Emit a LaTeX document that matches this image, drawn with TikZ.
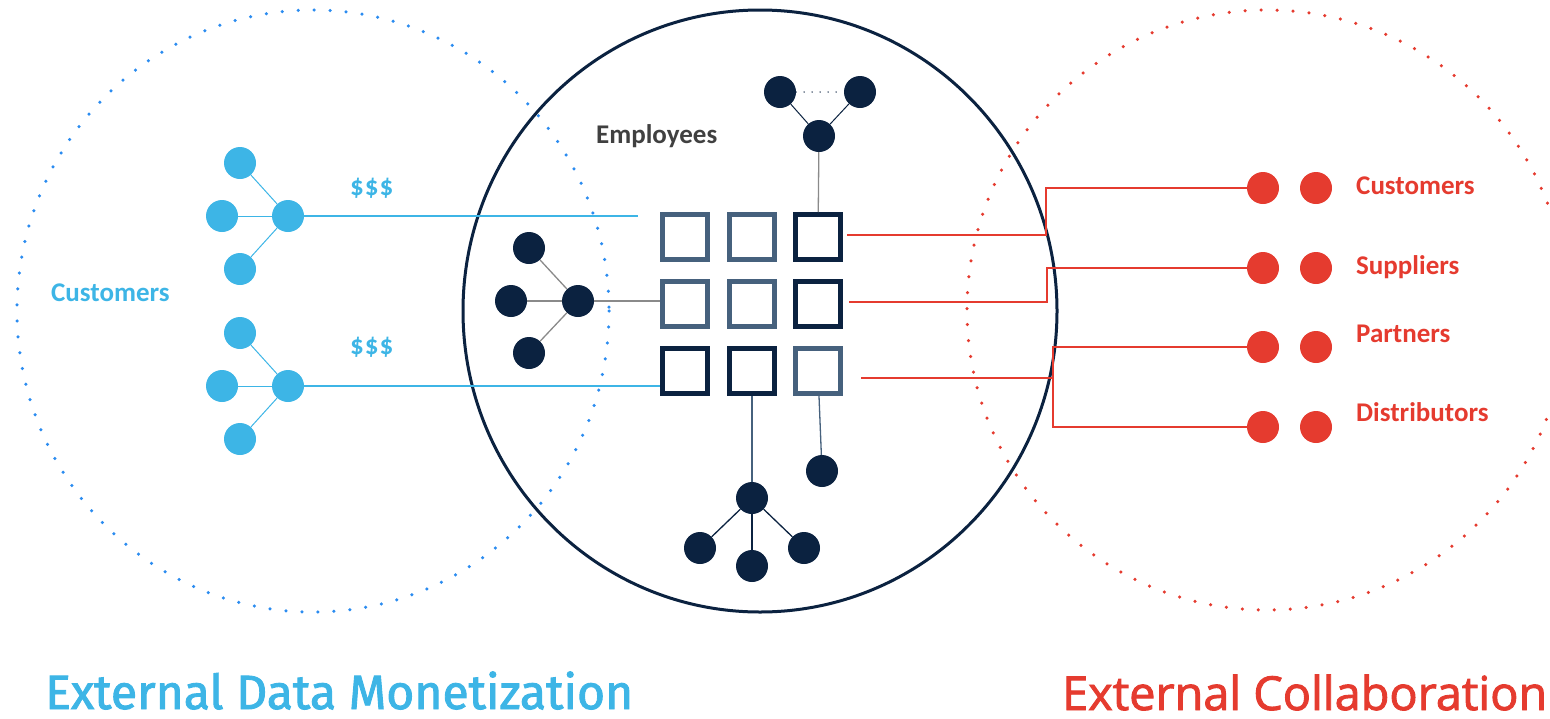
\documentclass[tikz,border=0pt]{standalone}
\usepackage{fontspec}
\setmainfont{Carlito}
\newfontfamily\tfa{Fira Sans}
\newfontfamily\tfb{Open Sans}
\newcommand{\heavytext}[1]{\special{pdf:literal 2 Tr 0.9 w}#1\special{pdf:literal 0 Tr}}
\definecolor{cblue}{HTML}{3DB5E6}
\definecolor{dblue}{HTML}{2B8CF0}
\definecolor{navy}{HTML}{0B2240}
\definecolor{slate}{HTML}{46617D}
\definecolor{cred}{HTML}{E53B2F}
\definecolor{txtgray}{HTML}{404040}
\definecolor{lgray}{HTML}{8A8A8A}
\begin{document}
\begin{tikzpicture}[x=1pt,y=-1pt,
  bnode/.style={circle,fill=cblue,minimum size=32pt,inner sep=0pt},
  dnode/.style={circle,fill=navy,minimum size=32pt,inner sep=0pt},
  rnode/.style={circle,fill=cred,minimum size=32pt,inner sep=0pt},
  sqa/.style={draw=slate,line width=5pt,minimum size=45pt,inner sep=0pt,fill=white},
  sqb/.style={draw=navy,line width=5pt,minimum size=45pt,inner sep=0pt,fill=white},
  blink/.style={draw=cblue,line width=1.5pt},
  glink/.style={draw=lgray,line width=1.3pt},
  rlink/.style={draw=cred,line width=1.5pt},
  dotring/.style={line width=3.5pt,line cap=round,dash pattern=on 0pt off 16pt},
  lbl/.style={font=\bfseries\fontsize{27}{30}\selectfont,anchor=base west,inner sep=0pt}
]
\useasboundingbox (0,0) rectangle (1550,718);
% rings
\draw[dotring,dblue] (313,311) ellipse [x radius=296, y radius=301];
\draw[dotring,cred] (1267,310) circle [radius=300];
\draw[navy,line width=3pt] (760,311) ellipse [x radius=297, y radius=301];

% squares grid
\node[sqa] (s11) at (685,237) {};
\node[sqa] (s12) at (752,237) {};
\node[sqb] (s13) at (818,237) {};
\node[sqa] (s21) at (685,304) {};
\node[sqa] (s22) at (752,304) {};
\node[sqb] (s23) at (818,304) {};
\node[sqb] (s31) at (685,371) {};
\node[sqb] (s32) at (752,371) {};
\node[sqa] (s33) at (818,371) {};

% blue trees
\node[bnode] (bh1) at (288,216) {};
\node[bnode] (bl1) at (240,163) {};
\node[bnode] (bm1) at (222,216) {};
\node[bnode] (bb1) at (240,269) {};
\node[bnode] (bh2) at (288,386) {};
\node[bnode] (bl2) at (240,333) {};
\node[bnode] (bm2) at (222,386) {};
\node[bnode] (bb2) at (240,439) {};
\foreach \h/\o in {bh1/bl1,bh1/bm1,bh1/bb1,bh2/bl2,bh2/bm2,bh2/bb2}
  \draw[draw=cblue,line width=1pt] (\h) -- (\o);
\coordinate (bend1) at (638,216);
\draw[blink] (bh1) -- (bend1);
\draw[blink] (bh2) -- (bh2 -| s31.west);

% dark left tree
\node[dnode] (dh) at (578,301) {};
\node[dnode] (dt) at (529,248) {};
\node[dnode] (dm) at (511,301) {};
\node[dnode] (db) at (529,353) {};
\foreach \o in {dt,dm,db} \draw[glink] (dh) -- (\o);
\draw[glink] (dh) -- (dh -| s21.west);

% top tree
\node[dnode] (th) at (819,136) {};
\node[dnode] (ta) at (780,92) {};
\node[dnode] (tb) at (860,92) {};
\draw[navy,line width=1pt] (th) -- (ta);
\draw[navy,line width=1pt] (th) -- (tb);
\draw[navy,line width=1.5pt,line cap=round,dash pattern=on 0pt off 8pt] (ta) -- (tb);
\draw[glink] (th) -- (s13);

% bottom tree
\node[dnode] (uh) at (752,498) {};
\node[dnode] (ua) at (700,548) {};
\node[dnode] (ub) at (752,566) {};
\node[dnode] (uc) at (804,548) {};
\node[dnode] (us) at (822,471) {};
\foreach \o in {ua,ub,uc} \draw[draw=navy,line width=1.3pt] (uh) -- (\o);
\draw[draw=slate,line width=1.3pt] (s32) -- (uh);
\draw[draw=slate,line width=1.3pt] (s33) -- (us);

% red nodes
\node[rnode] (rc1) at (1263,188) {};
\node[rnode] (rc2) at (1316,188) {};
\node[rnode] (rs1) at (1263,268) {};
\node[rnode] (rs2) at (1316,268) {};
\node[rnode] (rp1) at (1263,347) {};
\node[rnode] (rp2) at (1316,347) {};
\node[rnode] (rd1) at (1263,427) {};
\node[rnode] (rd2) at (1316,427) {};

% red connectors
\coordinate (ra) at (847,235);
\coordinate (rb) at (849,302);
\coordinate (rc) at (861,378);
\coordinate (rcj) at (1053,378);
\draw[rlink] (ra) -| (1046,188) -- (rc1);
\draw[rlink] (rb) -| (1047,268) -- (rs1);
\draw[rlink] (rc) -- (rcj);
\draw[rlink] (rp1) -| (1053,427) -- (rd1);

% labels
\node[lbl,text=cred] (lc) at (1356,194) {Customers};
\node[lbl,text=cred] (ls) at (1356,274) {Suppliers};
\node[lbl,text=cred] (lp) at (1356,342) {Partners};
\node[lbl,text=cred] (ld) at (1356,421) {Distributors};
\node[lbl,text=txtgray] (le) at (596,143) {Employees};
\node[lbl,text=cblue] (lbc) at (51,301) {Customers};
\node[lbl,text=cblue] (d1) at (350,195) {\$\hspace{1pt}\$\hspace{1pt}\$};
\node[lbl,text=cblue] (d2) at (350,354) {\$\hspace{1pt}\$\hspace{1pt}\$};

% titles
\node[anchor=base west,inner sep=0pt,text=cblue] (t1) at (45,709) {\raisebox{0pt}[\height][0pt]{\resizebox{588pt}{!}{\tfa\fontsize{48}{56}\selectfont \heavytext{External Data Monetization}}}};
\node[anchor=base west,inner sep=0pt,text=cred] (t2) at (1062,710) {\raisebox{0pt}[\height][0pt]{\resizebox{485pt}{!}{\tfb\fontsize{46}{54}\selectfont \heavytext{External Collaboration}}}};
\end{tikzpicture}
\end{document}
